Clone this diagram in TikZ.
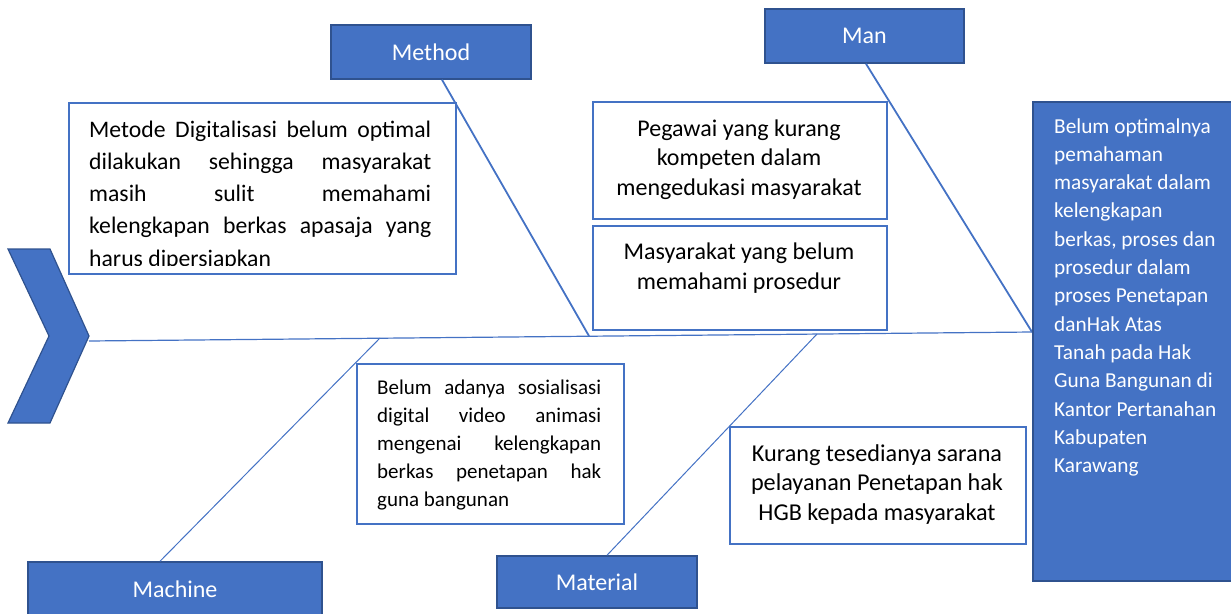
\documentclass[tikz,border=0pt]{standalone}
\usepackage{fontspec}
\setmainfont{Carlito}
\definecolor{acc}{HTML}{4472C4}
\definecolor{accd}{HTML}{2F528F}
\tikzset{
  lab/.style={draw=accd, fill=acc, line width=1.5pt, text=white, inner sep=0pt,
    font=\fontsize{24}{28}\selectfont},
  tbox/.style={draw=acc, line width=2pt, fill=white, inner sep=0pt},
  ln/.style={anchor=base west, inner sep=0pt},
  lc/.style={anchor=base, inner sep=0pt},
  bone/.style={draw=acc, line width=1.8pt},
  thinbone/.style={draw=acc, line width=1pt},
  spine/.style={draw=acc, line width=1.2pt},
}
\begin{document}
\begin{tikzpicture}[x=1pt,y=-1pt]
\useasboundingbox (0,0) rectangle (1231,613);
% fish head chevron
\draw[fill=acc, draw=accd, line width=1.2pt] (8,249) -- (50,249) -- (89,336) -- (50,423) -- (8,423) -- (49,336) -- cycle;
% spine
\coordinate (head) at (89,341);
\coordinate (tail) at (1032,332);
\coordinate (sMethod) at (589,336);
\coordinate (sMan) at (1032,332);
\coordinate (sMachine) at (380,338);
\coordinate (sMaterial) at (817,334);
\draw[spine] (head) -- (tail);
% category labels
\node[lab, minimum width=200pt, minimum height=54pt] (method) at (431,52) {Method};
\node[lab, minimum width=199pt, minimum height=54pt] (man) at (864.5,36) {Man};
\node[lab, minimum width=294pt, minimum height=54pt] (machine) at (175,589) {Machine};
\node[lab, minimum width=200pt, minimum height=52pt] (material) at (597,582) {Material};
% bones
\draw[bone] ([xshift=11pt]method.south) -- (sMethod);
\draw[bone] ([xshift=1.5pt]man.south) -- (sMan);
\draw[thinbone] ([xshift=-15pt]machine.north) -- (sMachine);
\draw[thinbone] ([xshift=10pt]material.north) -- (sMaterial);
% effect box
\node[draw=accd, fill=acc, line width=1.5pt, minimum width=215pt, minimum height=479pt, inner sep=0pt, anchor=north west] (effect) at (1032,101) {};
\foreach \t [count=\i] in {Belum optimalnya, pemahaman, masyarakat dalam, kelengkapan, {berkas, proses dan}, prosedur dalam, proses Penetapan, danHak Atas, Tanah pada Hak, Guna Bangunan di, Kantor Pertanahan, Kabupaten, Karawang}
  \node[ln, text=white, font=\fontsize{21.3}{25}\selectfont] (e\i) at (1054,{133+28.3*(\i-1)}) {\t};
% box 1 (method cause)
\node[tbox, minimum width=387pt, minimum height=171pt, anchor=north west] (b1) at (68,102) {};
\begin{scope}
\clip (68,102) rectangle (455,265.5);
\foreach \t [count=\i] in {Metode Digitalisasi belum optimal, dilakukan sehingga masyarakat, masih sulit memahami, kelengkapan berkas apasaja yang}
  \node[ln, font=\fontsize{23.7}{28}\selectfont] (bl\i) at (89,{137.5+32*(\i-1)}) {\makebox[342pt][s]{\t}};
\node[ln, font=\fontsize{23.7}{28}\selectfont] (bl5) at (89,266) {harus dipersiapkan};
\end{scope}
% box 2 and 3 (man causes)
\node[tbox, minimum width=294pt, minimum height=117pt, anchor=north west] (b2) at (592,101) {};
\node[lc, font=\fontsize{24}{28}\selectfont] (b2a) at (739,136) {Pegawai yang kurang};
\node[lc, font=\fontsize{24}{28}\selectfont] (b2b) at (739,165.5) {kompeten dalam};
\node[lc, font=\fontsize{24}{28}\selectfont] (b2c) at (739,195) {mengedukasi masyarakat};
\node[tbox, minimum width=294pt, minimum height=104pt, anchor=north west] (b3) at (592,225) {};
\node[lc, font=\fontsize{24}{28}\selectfont] (b3a) at (739,259) {Masyarakat yang belum};
\node[lc, font=\fontsize{24}{28}\selectfont] (b3b) at (739,289.5) {memahami prosedur};
% box 4 (machine cause)
\node[tbox, minimum width=267pt, minimum height=160pt, anchor=north west] (b4) at (356,363) {};
\foreach \t [count=\i] in {Belum adanya sosialisasi, digital video animasi, mengenai kelengkapan, berkas penetapan hak}
  \node[ln, font=\fontsize{21}{25}\selectfont] (bm\i) at (377,{394+28.2*(\i-1)}) {\makebox[224pt][s]{\t}};
\node[ln, font=\fontsize{21}{25}\selectfont] (bm5) at (377,506.8) {guna bangunan};
% box 5 (material cause)
\node[tbox, minimum width=296pt, minimum height=117pt, anchor=north west] (b5) at (729,426) {};
\node[lc, font=\fontsize{24.2}{28}\selectfont] (b5a) at (877,461) {Kurang tesedianya sarana};
\node[lc, font=\fontsize{24.2}{28}\selectfont] (b5b) at (877,490.5) {pelayanan Penetapan hak};
\node[lc, font=\fontsize{24.2}{28}\selectfont] (b5c) at (877,520) {HGB kepada masyarakat};
\end{tikzpicture}
\end{document}
